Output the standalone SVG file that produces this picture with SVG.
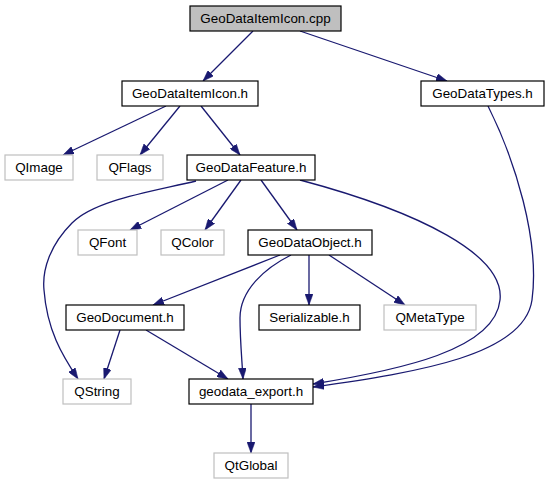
<svg xmlns="http://www.w3.org/2000/svg" width="548" height="485" viewBox="0 0 548 485">
<style>
.n rect{fill:#ffffff;stroke:#000000;stroke-width:1.2}
.g rect{fill:#ffffff;stroke:#bfbfbf;stroke-width:1.2}
.root rect{fill:#bfbfbf;stroke:#000000;stroke-width:1.2}
text{font-family:"Liberation Sans",Arial,Helvetica,sans-serif;font-size:13.4px;fill:#000000;text-anchor:middle}
#edges path{fill:none;stroke:#191970;stroke-width:1.3;marker-end:url(#ah)}
</style>
<defs>
<marker id="ah" viewBox="0 0 11 8" refX="11" refY="4" markerWidth="11" markerHeight="8" markerUnits="userSpaceOnUse" orient="auto">
<path d="M0,0 L11,4 L0,8 z" fill="#191970" stroke="#191970" stroke-width="0.5"/>
</marker>
</defs>
<rect width="548" height="485" fill="#ffffff"/>
<g id="edges">
<path d="M253,31 L203,81"/>
<path d="M300,31 L447,81"/>
<path d="M166,106 L63,155"/>
<path d="M180,106 L140,155"/>
<path d="M201,106 L240,155"/>
<path d="M488,106 C515,160 540,240 532,300 C524,355 420,372 313,387"/>
<path d="M196,181 C150,192 95,200 72,223 C50,245 42,270 44,290 C47,330 62,355 78,379"/>
<path d="M228,180 L130,230"/>
<path d="M241,180 L205,230"/>
<path d="M261,180 L297,230"/>
<path d="M300,180 C420,212 505,255 500,300 C495,350 400,370 313,384"/>
<path d="M280,255 L153,305"/>
<path d="M291,255 C265,268 240,290 240,318 C240,340 242,360 243,379"/>
<path d="M309,255 L309,305"/>
<path d="M329,255 L405,305"/>
<path d="M120,330 L104,379"/>
<path d="M146,330 L228,379"/>
<path d="M251,404 L251,453"/>
</g>
<g id="node_cpp" class="root"><rect x="190" y="6" width="151" height="25"/><text x="265.5" y="23.2">GeoDataItemIcon.cpp</text></g>
<g id="node_itemicon_h" class="n"><rect x="122" y="81" width="136" height="25"/><text x="190" y="98.2">GeoDataItemIcon.h</text></g>
<g id="node_types_h" class="n"><rect x="421" y="81" width="123" height="25"/><text x="482.5" y="98.2">GeoDataTypes.h</text></g>
<g id="node_qimage" class="g"><rect x="5" y="155" width="68" height="25"/><text x="39" y="172.2">QImage</text></g>
<g id="node_qflags" class="g"><rect x="97" y="155" width="66" height="25"/><text x="130" y="172.2">QFlags</text></g>
<g id="node_feature_h" class="n"><rect x="187" y="155" width="128" height="25"/><text x="251" y="172.2">GeoDataFeature.h</text></g>
<g id="node_qfont" class="g"><rect x="78" y="230" width="59" height="25"/><text x="107.5" y="247.2">QFont</text></g>
<g id="node_qcolor" class="g"><rect x="161" y="230" width="63" height="25"/><text x="192.5" y="247.2">QColor</text></g>
<g id="node_object_h" class="n"><rect x="248" y="230" width="124" height="25"/><text x="310" y="247.2">GeoDataObject.h</text></g>
<g id="node_document_h" class="n"><rect x="66" y="305" width="118" height="25"/><text x="125" y="322.2">GeoDocument.h</text></g>
<g id="node_serializable_h" class="n"><rect x="259" y="305" width="101" height="25"/><text x="309.5" y="322.2">Serializable.h</text></g>
<g id="node_qmetatype" class="g"><rect x="384" y="305" width="92" height="25"/><text x="430" y="322.2">QMetaType</text></g>
<g id="node_qstring" class="g"><rect x="63" y="379" width="68" height="25"/><text x="97" y="396.2">QString</text></g>
<g id="node_export_h" class="n"><rect x="189" y="379" width="124" height="25"/><text x="251" y="396.2">geodata_export.h</text></g>
<g id="node_qtglobal" class="g"><rect x="214" y="453" width="74" height="25"/><text x="251" y="470.2">QtGlobal</text></g>
</svg>
